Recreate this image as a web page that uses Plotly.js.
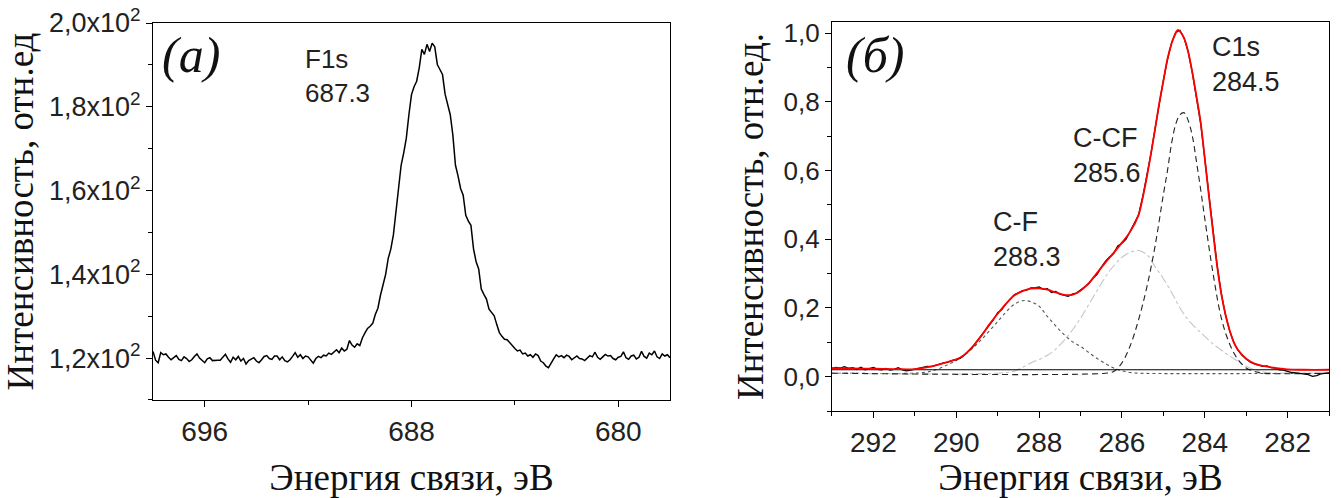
<!DOCTYPE html>
<html>
<head>
<meta charset="utf-8">
<script src="https://cdn.plot.ly/plotly-3.0.1.min.js"></script>
<style>html,body{margin:0;padding:0;background:#fff;}#chart{width:1341px;height:498px;}</style>
</head>
<body>
<div id="chart"></div>
<script>
// ---------- Panel (а): F1s spectrum ----------
const f1sEnergy = [
698.0,697.9,697.8,697.7,697.6,697.5,697.4,697.3,697.2,697.1,
697.0,696.9,696.8,696.7,696.6,696.5,696.4,696.3,696.2,696.1,
696.0,695.9,695.8,695.7,695.6,695.5,695.4,695.3,695.2,695.1,
695.0,694.9,694.8,694.7,694.6,694.5,694.4,694.3,694.2,694.1,
694.0,693.9,693.8,693.7,693.6,693.5,693.4,693.3,693.2,693.1,
693.0,692.9,692.8,692.7,692.6,692.5,692.4,692.3,692.2,692.1,
692.0,691.9,691.8,691.7,691.6,691.5,691.4,691.3,691.2,691.1,
691.0,690.9,690.8,690.7,690.6,690.5,690.4,690.3,690.2,690.1,
690.0,689.9,689.8,689.7,689.6,689.5,689.4,689.3,689.2,689.1,
689.0,688.9,688.8,688.7,688.6,688.5,688.4,688.3,688.2,688.1,
688.0,687.9,687.8,687.7,687.6,687.5,687.4,687.3,687.2,687.1,
687.0,686.9,686.8,686.7,686.6,686.5,686.4,686.3,686.2,686.1,
686.0,685.9,685.8,685.7,685.6,685.5,685.4,685.3,685.2,685.1,
685.0,684.9,684.8,684.7,684.6,684.5,684.4,684.3,684.2,684.1,
684.0,683.9,683.8,683.7,683.6,683.5,683.4,683.3,683.2,683.1,
683.0,682.9,682.8,682.7,682.6,682.5,682.4,682.3,682.2,682.1,
682.0,681.9,681.8,681.7,681.6,681.5,681.4,681.3,681.2,681.1,
681.0,680.9,680.8,680.7,680.6,680.5,680.4,680.3,680.2,680.1,
680.0,679.9,679.8,679.7,679.6,679.5,679.4,679.3,679.2,679.1,
679.0,678.9,678.8,678.7,678.6,678.5,678.4,678.3,678.2,678.1,
678.0];
const f1sIntensity = [
121.6,119.5,118.9,121.3,120.8,121.0,120.2,119.6,120.1,120.6,
119.7,119.4,120.3,119.9,119.2,119.6,120.4,121.0,120.0,119.5,
118.9,119.8,120.1,119.4,119.5,119.5,119.5,120.3,120.9,119.8,
119.0,120.2,119.6,120.4,119.3,119.9,118.6,119.4,119.7,120.1,
119.3,118.9,119.6,120.4,120.6,119.9,119.7,120.5,120.5,119.6,
120.3,119.4,119.1,119.6,120.4,121.3,120.2,120.8,119.9,120.5,
120.3,119.5,118.8,119.9,120.4,120.1,120.7,120.5,121.2,120.9,
121.4,122.0,121.3,122.4,121.7,122.1,124.2,123.1,122.6,123.4,
123.0,124.8,126.0,127.1,127.6,128.3,130.4,131.9,135.0,137.5,
140.0,143.8,146.0,149.4,155.0,162.1,166.1,169.0,172.5,178.1,
182.9,184.8,186.1,189.3,193.7,192.5,194.9,193.2,195.2,194.3,
190.1,188.9,187.7,183.0,180.5,178.1,173.3,166.1,163.5,160.5,
158.9,154.1,152.7,151.7,146.1,143.0,141.3,136.5,135.2,134.1,
131.7,131.0,130.1,128.0,126.1,125.2,124.5,124.4,123.7,122.8,
122.3,121.7,121.9,121.0,121.2,120.5,120.8,120.2,121.0,120.6,
119.3,118.9,118.1,117.7,118.9,119.8,120.8,120.3,120.6,120.1,
120.7,120.4,119.6,120.0,120.5,119.9,119.8,119.4,120.0,120.6,
120.3,121.4,120.2,119.7,120.3,120.9,120.5,120.6,119.9,119.6,
120.2,120.4,121.5,120.1,119.7,120.5,120.7,119.8,120.2,121.6,
120.4,120.0,121.2,120.8,121.7,120.3,119.9,121.0,120.5,120.8,
120.1];
const leftXTicks = [696, 688, 680];
const leftYTicks = [120, 140, 160, 180, 200];
const leftYTickText = ["1,2x10<sup>2</sup>","1,4x10<sup>2</sup>","1,6x10<sup>2</sup>","1,8x10<sup>2</sup>","2,0x10<sup>2</sup>"];

// ---------- Panel (б): C1s spectrum and fit ----------
const c1sEnergy = [293.0,292.9,292.8,292.7,292.6,292.5,292.4,292.3,292.2,292.1,292.0,291.9,291.8,291.7,291.6,291.5,291.4,291.3,291.2,291.1,291.0,290.9,290.8,290.7,290.6,290.5,290.4,290.3,290.2,290.1,290.0,289.9,289.8,289.7,289.6,289.5,289.4,289.3,289.2,289.1,289.0,288.9,288.8,288.7,288.6,288.5,288.4,288.3,288.2,288.1,288.0,287.9,287.8,287.7,287.6,287.5,287.4,287.3,287.2,287.1,287.0,286.9,286.8,286.7,286.6,286.5,286.4,286.3,286.2,286.1,286.0,285.9,285.8,285.7,285.6,285.5,285.4,285.3,285.2,285.1,285.0,284.9,284.8,284.7,284.6,284.5,284.4,284.3,284.2,284.1,284.0,283.9,283.8,283.7,283.6,283.5,283.4,283.3,283.2,283.1,283.0,282.9,282.8,282.7,282.6,282.5,282.4,282.3,282.2,282.1,282.0,281.9,281.8,281.7,281.6,281.5,281.4,281.3,281.2,281.1,281.0];
const c1sMeasured = [0.024,0.027,0.025,0.029,0.024,0.026,0.021,0.027,0.020,0.023,0.027,0.021,0.020,0.024,0.019,0.021,0.026,0.020,0.017,0.019,0.022,0.026,0.027,0.030,0.029,0.033,0.036,0.040,0.042,0.047,0.049,0.054,0.063,0.075,0.086,0.103,0.118,0.133,0.151,0.166,0.186,0.195,0.212,0.226,0.238,0.244,0.250,0.252,0.258,0.258,0.261,0.254,0.256,0.245,0.248,0.240,0.236,0.234,0.240,0.243,0.252,0.261,0.270,0.286,0.298,0.318,0.335,0.348,0.358,0.380,0.388,0.400,0.425,0.445,0.470,0.522,0.581,0.648,0.722,0.795,0.862,0.923,0.972,1.002,1.008,0.985,0.945,0.884,0.812,0.738,0.634,0.524,0.418,0.322,0.241,0.180,0.133,0.100,0.077,0.062,0.051,0.042,0.037,0.033,0.030,0.031,0.026,0.025,0.020,0.019,0.015,0.012,0.011,0.010,0.008,0.006,0.001,0.003,0.008,0.010,0.011];

const fitEnergy = [293.0,292.5,292.0,291.5,291.0,290.6,290.2,290.0,289.8,289.6,289.4,289.2,289.0,288.8,288.6,288.4,288.2,288.0,287.8,287.6,287.4,287.2,287.0,286.8,286.6,286.4,286.2,286.0,285.8,285.6,285.5,285.4,285.3,285.2,285.1,285.0,284.9,284.8,284.7,284.65,284.6,284.5,284.4,284.3,284.2,284.1,284.0,283.9,283.8,283.7,283.6,283.5,283.4,283.3,283.2,283.0,282.8,282.6,282.4,282.2,282.0,281.6,281.0];
const fitEnvelope = [0.025,0.024,0.023,0.022,0.022,0.030,0.043,0.050,0.064,0.088,0.118,0.152,0.183,0.212,0.236,0.249,0.256,0.257,0.253,0.245,0.238,0.238,0.250,0.272,0.302,0.332,0.360,0.390,0.422,0.470,0.520,0.580,0.648,0.720,0.795,0.860,0.925,0.970,1.000,1.009,1.005,0.985,0.945,0.885,0.815,0.740,0.635,0.525,0.420,0.320,0.240,0.180,0.135,0.100,0.078,0.052,0.038,0.031,0.027,0.024,0.021,0.020,0.020];

const cfEnergy = [293.0,291.0,290.8,290.6,290.4,290.2,290.0,289.8,289.6,289.4,289.2,289.0,288.8,288.6,288.4,288.2,288.0,287.8,287.6,287.4,287.2,287.0,286.8,286.6,286.4,286.2,286.0,285.8,285.6,281.0];
const cfPeak = [0.010,0.010,0.012,0.016,0.024,0.035,0.047,0.063,0.083,0.107,0.133,0.160,0.188,0.210,0.221,0.218,0.205,0.175,0.148,0.123,0.102,0.088,0.070,0.053,0.038,0.025,0.017,0.012,0.010,0.010];

const ccfEnergy = [293.0,289.0,288.6,288.4,288.2,288.0,287.8,287.6,287.4,287.2,287.0,286.8,286.6,286.4,286.2,286.0,285.8,285.6,285.4,285.2,285.0,284.8,284.6,284.4,284.2,284.0,283.8,283.6,283.4,283.2,283.0,282.8,282.6,282.4,281.0];
const ccfPeak = [0.010,0.010,0.016,0.027,0.040,0.050,0.062,0.080,0.105,0.135,0.170,0.210,0.250,0.290,0.322,0.347,0.362,0.367,0.355,0.320,0.285,0.245,0.200,0.165,0.140,0.117,0.095,0.077,0.060,0.045,0.030,0.020,0.014,0.011,0.010];

const ccEnergy = [293.0,286.4,286.2,286.0,285.8,285.6,285.4,285.2,285.0,284.9,284.8,284.7,284.6,284.5,284.4,284.3,284.2,284.1,284.0,283.8,283.6,283.4,283.2,283.0,282.8,282.6,281.0];
const ccPeak = [0.010,0.010,0.015,0.040,0.090,0.165,0.260,0.380,0.530,0.600,0.680,0.735,0.762,0.768,0.745,0.700,0.625,0.545,0.460,0.300,0.170,0.095,0.050,0.025,0.015,0.010,0.010];

const backgroundEnergy = [293.0, 281.0];
const backgroundLevel = [0.020, 0.020];

const rightXTicks = [292, 290, 288, 286, 284, 282];
const rightYTicks = [0.0, 0.2, 0.4, 0.6, 0.8, 1.0];
const rightYTickText = ["0,0","0,2","0,4","0,6","0,8","1,0"];

// ---------- styling ----------
const sans = "Liberation Sans, Arial, sans-serif";
const serif = "Liberation Serif, Times New Roman, serif";

const traces = [
  {x: f1sEnergy, y: f1sIntensity, xaxis:'x', yaxis:'y', mode:'lines', line:{color:'#000', width:1.5}},
  {x: cfEnergy, y: cfPeak, xaxis:'x2', yaxis:'y2', mode:'lines', line:{color:'#555', width:1.1, dash:'dot', shape:'spline'}},
  {x: ccfEnergy, y: ccfPeak, xaxis:'x2', yaxis:'y2', mode:'lines', line:{color:'#c4c4c4', width:1.1, dash:'dashdot', shape:'spline'}},
  {x: ccEnergy, y: ccPeak, xaxis:'x2', yaxis:'y2', mode:'lines', line:{color:'#222', width:1.1, dash:'6px,4px', shape:'spline'}},
  {x: backgroundEnergy, y: backgroundLevel, xaxis:'x2', yaxis:'y2', mode:'lines', line:{color:'#000', width:1}},
  {x: c1sEnergy, y: c1sMeasured, xaxis:'x2', yaxis:'y2', mode:'lines', line:{color:'#000', width:1.3}},
  {x: fitEnergy, y: fitEnvelope, xaxis:'x2', yaxis:'y2', mode:'lines', line:{color:'#ff0000', width:1.8, shape:'spline'}}
];

const axBase = {
  showline:true, mirror:true, linecolor:'#000', linewidth:1,
  showgrid:false, zeroline:false, ticks:'outside', ticklen:6, tickwidth:1, tickcolor:'#000',
  tickmode:'array', autorange:false, fixedrange:true
};

const layout = {
  width:1341, height:498,
  margin:{l:0, r:0, t:0, b:0},
  paper_bgcolor:'#fff', plot_bgcolor:'#fff',
  showlegend:false,
  xaxis: Object.assign({}, axBase, {
    domain:[0.1141, 0.4996], range:[698, 678], anchor:'y',
    tickvals: leftXTicks, ticktext: leftXTicks.map(String),
    tickfont:{family:sans, size:28, color:'#222'},
    minor:{dtick:4, tick0:0, ticks:'outside', ticklen:4, tickcolor:'#000'},
    title:{text:'Энергия связи, эВ', font:{family:serif, size:37, color:'#111'}, standoff:22}
  }),
  yaxis: Object.assign({}, axBase, {
    domain:[0.1968, 0.9538], range:[110, 200], anchor:'x',
    tickvals: leftYTicks, ticktext: leftYTickText,
    tickfont:{family:sans, size:27, color:'#222'},
    minor:{dtick:10, tick0:0, ticks:'outside', ticklen:4, tickcolor:'#000'},
    title:{text:'Интенсивность, отн.ед', font:{family:serif, size:37, color:'#111'}, standoff:8}
  }),
  xaxis2: Object.assign({}, axBase, {
    domain:[0.6204, 0.9911], range:[293, 281], anchor:'y2',
    tickvals: rightXTicks, ticktext: rightXTicks.map(String),
    tickfont:{family:sans, size:28, color:'#222'},
    minor:{dtick:1, tick0:0, ticks:'outside', ticklen:4, tickcolor:'#000'},
    title:{text:'Энергия связи, эВ', font:{family:serif, size:37, color:'#111'}, standoff:14}
  }),
  yaxis2: Object.assign({}, axBase, {
    domain:[0.1747, 0.9558], range:[-0.1, 1.032], anchor:'x2',
    tickvals: rightYTicks, ticktext: rightYTickText,
    tickfont:{family:sans, size:26, color:'#222'},
    minor:{dtick:0.1, tick0:0, ticks:'outside', ticklen:4, tickcolor:'#000'},
    title:{text:'Интенсивность, отн.ед.', font:{family:serif, size:37, color:'#111'}, standoff:8}
  }),
  annotations:[
    {xref:'x domain', yref:'y domain', x:0.0735, y:0.915, text:'<i>(а)</i>', showarrow:false, xanchor:'center', yanchor:'middle', font:{family:serif, size:50, color:'#111'}},
    {xref:'x domain', yref:'y domain', x:0.29, y:0.859, text:'F1s<br>687.3', showarrow:false, xanchor:'left', yanchor:'middle', align:'left', font:{family:sans, size:26, color:'#222'}},
    {xref:'x2 domain', yref:'y2 domain', x:0.0865, y:0.915, text:'<i>(б)</i>', showarrow:false, xanchor:'center', yanchor:'middle', font:{family:serif, size:50, color:'#111'}},
    {xref:'x2 domain', yref:'y2 domain', x:0.76, y:0.892, text:'C1s<br>284.5', showarrow:false, xanchor:'left', yanchor:'middle', align:'left', font:{family:sans, size:27, color:'#222'}},
    {xref:'x2 domain', yref:'y2 domain', x:0.48, y:0.658, text:'C-CF<br>285.6', showarrow:false, xanchor:'left', yanchor:'middle', align:'left', font:{family:sans, size:27, color:'#222'}},
    {xref:'x2 domain', yref:'y2 domain', x:0.32, y:0.442, text:'C-F<br>288.3', showarrow:false, xanchor:'left', yanchor:'middle', align:'left', font:{family:sans, size:27, color:'#222'}}
  ]
};

Plotly.newPlot('chart', traces, layout, {staticPlot:true, displayModeBar:false});
</script>
</body>
</html>
